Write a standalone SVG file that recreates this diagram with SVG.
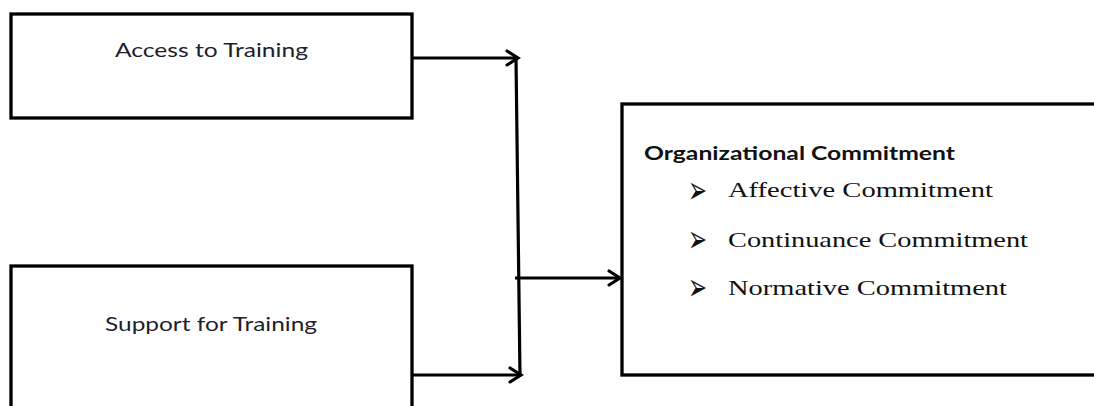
<svg xmlns="http://www.w3.org/2000/svg" width="1094" height="406" viewBox="0 0 1094 406">
<style>
.box{fill:#fff;stroke:#000;stroke-width:3.3}
.lbl{font-family:Lato,"Open Sans","Liberation Sans",sans-serif;font-size:19px;fill:#1e1e2c}
.head{font-family:Lato,"Open Sans","Liberation Sans",sans-serif;font-size:19px;font-weight:bold;fill:#111}
.item{font-family:"Liberation Serif","Times New Roman",serif;font-size:22px;fill:#111}
.bul{font-family:"DejaVu Sans",sans-serif;font-size:38px;fill:#111}
.con{fill:none;stroke:#000;stroke-width:3.2}
</style>
<defs>
<marker id="arr" markerUnits="userSpaceOnUse" markerWidth="20" markerHeight="20" viewBox="-14 -10 20 20" refX="0" refY="0" orient="auto" overflow="visible">
<path d="M-11,-7 L0,0 L-11,7" fill="none" stroke="#000" stroke-width="3.2" stroke-linecap="round" stroke-linejoin="miter"/>
</marker>
</defs>
<g id="connectors">
<line class="con" x1="412" y1="58" x2="518" y2="58" marker-end="url(#arr)"/>
<line class="con" x1="516" y1="58" x2="520" y2="376"/>
<line class="con" x1="412" y1="375" x2="521" y2="375" marker-end="url(#arr)"/>
<line class="con" x1="515" y1="278" x2="620" y2="278" marker-end="url(#arr)"/>
</g>
<g id="access">
<rect class="box" x="11" y="14" width="401" height="104"/>
<text class="lbl" x="115" y="57" textLength="193" lengthAdjust="spacingAndGlyphs">Access to Training</text>
</g>
<g id="support">
<rect class="box" x="11" y="266" width="401" height="160"/>
<text class="lbl" x="105" y="331" textLength="212" lengthAdjust="spacingAndGlyphs">Support for Training</text>
</g>
<g id="commitment">
<rect class="box" x="622" y="104" width="500" height="271"/>
<text class="head" x="644" y="160" textLength="311" lengthAdjust="spacingAndGlyphs">Organizational  Commitment</text>
<text class="bul" x="688" y="203" textLength="19" lengthAdjust="spacingAndGlyphs">➢</text>
<text class="item" x="728" y="197" textLength="265" lengthAdjust="spacingAndGlyphs">Affective Commitment</text>
<text class="bul" x="688" y="252" textLength="19" lengthAdjust="spacingAndGlyphs">➢</text>
<text class="item" x="728" y="247" textLength="300" lengthAdjust="spacingAndGlyphs">Continuance Commitment</text>
<text class="bul" x="688" y="300" textLength="19" lengthAdjust="spacingAndGlyphs">➢</text>
<text class="item" x="728" y="295" textLength="279" lengthAdjust="spacingAndGlyphs">Normative Commitment</text>
</g>
</svg>
